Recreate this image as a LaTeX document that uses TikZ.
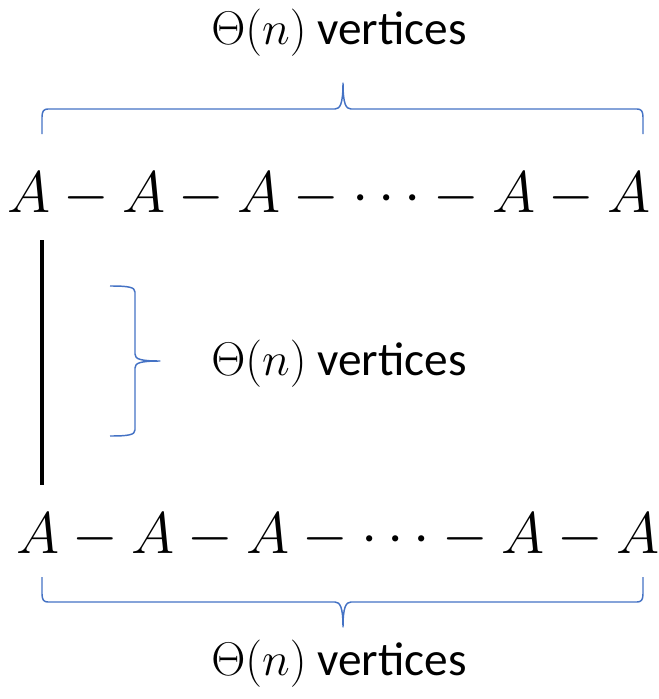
\documentclass[tikz,border=0pt]{standalone}
\usepackage{fix-cm}
\usepackage{fontspec}
\setmainfont{Carlito}
\usetikzlibrary{calc,positioning}
\definecolor{BraceBlue}{HTML}{4472C4}
\tikzset{
  chain/.style={font=\fontsize{44}{50}\selectfont, inner sep=0pt, anchor=base},
  caption/.style={font=\fontsize{35.5}{42}\selectfont, inner sep=0pt, anchor=base},
  brace/.style={draw=BraceBlue, line width=1.1pt, line join=round},
  link/.style={draw=black, line width=3.5pt}
}

\begin{document}
\begin{tikzpicture}[x=0.75pt,y=-0.75pt]
    \useasboundingbox (0,0) rectangle (659,699);
    % the two rows
    \node[chain] (row1) at (329,212) {$A - A - A - \cdots - A - A$};
    \node[chain] (row2) at (338,553) {$A - A - A - \cdots - A - A$};
    % labels
    \node[caption] (toplabel) at (339,45) {$\Theta(n)$ vertices};
    \node[caption] (midlabel) at (339,375) {$\Theta(n)$ vertices};
    \node[caption] (botlabel) at (339,675) {$\Theta(n)$ vertices};
    % vertical link between the rows
    \coordinate (linetop) at (42,240);
    \coordinate (linebot) at (42,485);
    \draw[link] (linetop)--(linebot);
    % top brace
    \draw[brace] (42,134) -- (42,117) .. controls (42,111) and (44,109) .. (48,109)
      -- (335,109) .. controls (340,109) and (343,104) .. (343,83)
      .. controls (343,104) and (346,109) .. (351,109)
      -- (637,109) .. controls (641,109) and (643,111) .. (643,117) -- (643,134);
    % middle brace
    \draw[brace] (110,286) .. controls (128,286) and (135,287) .. (135,292)
      -- (135,354) .. controls (135,359) and (140,361) .. (160,361)
      .. controls (140,361) and (135,363) .. (135,368)
      -- (135,430) .. controls (135,435) and (128,436) .. (110,436);
    % bottom brace
    \draw[brace] (42,577) -- (42,594) .. controls (42,600) and (44,602) .. (48,602)
      -- (335,602) .. controls (340,602) and (343,607) .. (343,627)
      .. controls (343,607) and (346,602) .. (351,602)
      -- (637,602) .. controls (641,602) and (643,600) .. (643,594) -- (643,577);
\end{tikzpicture}
\end{document}
